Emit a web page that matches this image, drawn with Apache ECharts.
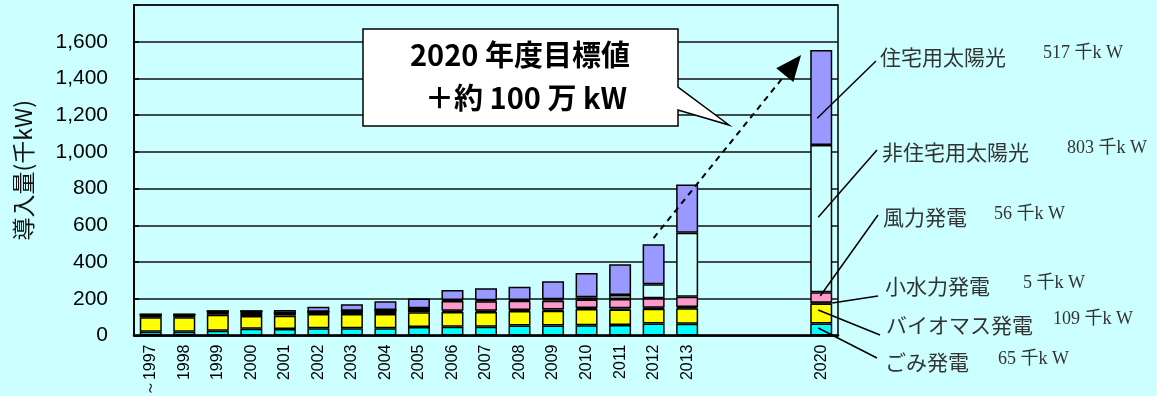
<!DOCTYPE html>
<html>
<head>
<meta charset="utf-8">
<script src="https://cdn.jsdelivr.net/npm/echarts@6/dist/echarts.min.js"></script>
<style>
  html, body { margin: 0; padding: 0; background: #CCFFFF; }
  #chart { width: 1157px; height: 396px; }
</style>
</head>
<body>
<div id="chart"></div>
<script>
// 年度（空白は 2014〜2019 の省略分）
var years = ['～1997', '1998', '1999', '2000', '2001', '2002', '2003', '2004', '2005', '2006',
  '2007', '2008', '2009', '2010', '2011', '2012', '2013', ' ', '  ', '   ', '2020'];

// 導入量（千kW）下から順に積み上げ
var gomi = [20, 20, 26, 37, 35, 39, 39, 39, 46, 48, 48, 55, 55, 56, 57, 66, 64, null, null, null, 65];
var biomass = [79, 79, 87, 69, 73, 78, 78, 78, 80, 80, 80, 78, 80, 88, 85, 80, 84, null, null, null, 109];
var hydro = [16, 16, 19, 26, 13, 13, 18, 22, 22, 7, 7, 6, 6, 6, 6, 5, 7, null, null, null, 5];
var wind = [0, 0, 0, 0, 0, 0, 0, 0, 0, 53, 52, 50, 48, 46, 51, 52, 56, null, null, null, 56];
var solarOther = [0, 0, 0, 0, 0, 0, 0, 0, 0, 5, 5, 5, 8, 12, 22, 76, 349, null, null, null, 803];
var solarHome = [0, 0, 0, 0, 18, 27, 35, 47, 54, 55, 65, 72, 98, 132, 167, 218, 263, null, null, null, 517];

var yTicks = [0, 200, 400, 600, 800, 1000, 1200, 1400, 1600];

// 右側の凡例（2020 年度の内訳）
var legendNames = ['住宅用太陽光', '非住宅用太陽光', '風力発電', '小水力発電', 'バイオマス発電', 'ごみ発電'];
var legendValues = ['517 千k W', '803 千k W', '56 千k W', '5 千k W', '109 千k W', '65 千k W'];

var chart = echarts.init(document.getElementById('chart'));

function barSeries(name, data, color) {
  return {
    name: name,
    type: 'bar',
    stack: 'total',
    barWidth: 22,
    data: data,
    itemStyle: { color: color, borderColor: '#000', borderWidth: 1.5 }
  };
}

var option = {
  backgroundColor: '#CCFFFF',
  animation: false,
  grid: {
    left: 134, right: 319, top: 5, bottom: 60.5,
    show: true, borderColor: '#000', borderWidth: 1.5, backgroundColor: 'transparent',
    outerBoundsMode: 'none'
  },
  xAxis: {
    type: 'category',
    data: years,
    axisLine: { lineStyle: { color: '#000', width: 2.5 } },
    axisTick: { inside: true, length: 6, lineStyle: { color: '#000', width: 1.5 } },
    axisLabel: {
      rotate: 90, margin: 9, interval: 0,
      fontSize: 16, fontFamily: 'Liberation Sans, Arial, sans-serif', color: '#000'
    }
  },
  yAxis: {
    type: 'value',
    min: 0, max: 1800, interval: 200,
    name: '導入量(千kW)',
    nameLocation: 'middle',
    nameGap: 99,
    nameTextStyle: { fontSize: 23, fontFamily: 'Noto Sans CJK JP', color: '#111' },
    axisLine: { show: true, lineStyle: { color: '#000', width: 2 } },
    axisTick: { show: true, inside: true, length: 5, lineStyle: { color: '#000', width: 1.5 } },
    axisLabel: {
      margin: 26, fontSize: 21, fontFamily: 'Liberation Sans, Arial, sans-serif', color: '#000',
      formatter: function (v) {
        return yTicks.indexOf(v) >= 0 ? v.toLocaleString('en-US') : '';
      }
    },
    splitLine: { lineStyle: { color: '#111', width: 1.5 } }
  },
  series: [
    barSeries('ごみ発電', gomi, '#00FFFF'),
    barSeries('バイオマス発電', biomass, '#FFFF00'),
    barSeries('小水力発電', hydro, '#000000'),
    barSeries('風力発電', wind, '#FF99CC'),
    barSeries('非住宅用太陽光', solarOther, '#CCFFFF'),
    barSeries('住宅用太陽光', solarHome, '#9999FF')
  ]
};
chart.setOption(option);

// ---- 注記（吹き出し・矢印・引出線）----
function px(idx, value) {
  // idx は小数も可：隣のカテゴリ中心から補間
  var i0 = Math.floor(idx), f = idx - i0;
  var p0 = chart.convertToPixel({ gridIndex: 0 }, [i0, value]);
  if (f === 0) return p0;
  var p1 = chart.convertToPixel({ gridIndex: 0 }, [i0 + 1, value]);
  return [p0[0] + (p1[0] - p0[0]) * f, p0[1]];
}

var last = years.length - 1;
var stacks = [gomi, biomass, hydro, wind, solarOther, solarHome];
function segValue(si, frac) {
  var base = 0;
  for (var k = 0; k < si; k++) base += stacks[k][last];
  return base + stacks[si][last] * frac;
}

var graphics = [];

// 吹き出し
var boxL = 363, boxT = 29, boxR = 678, boxB = 126;
graphics.push({
  type: 'polygon',
  shape: { points: [[boxL, boxT], [boxR, boxT], [boxR, 87], [729, 125], [boxR, 110], [boxR, boxB], [boxL, boxB]] },
  style: { fill: '#fff', stroke: '#000', lineWidth: 1.5 },
  z: 10
});
graphics.push({
  type: 'text', z: 11,
  style: { text: '2020 年度目標値', x: 520, y: 55, align: 'center', verticalAlign: 'middle',
    fontSize: 29, fontWeight: 'bold', fontFamily: 'Noto Sans CJK JP', fill: '#000' }
});
graphics.push({
  type: 'text', z: 11,
  style: { text: '＋約 100 万 kW', x: 526, y: 98, align: 'center', verticalAlign: 'middle',
    fontSize: 29, fontWeight: 'bold', fontFamily: 'Noto Sans CJK JP', fill: '#000' }
});

// 破線矢印（2012 年度から 2020 年度目標へ）
var a0 = px(15, 531);
var a1 = px(19.4, 1528);
var dx = a1[0] - a0[0], dy = a1[1] - a0[1];
var len = Math.sqrt(dx * dx + dy * dy);
var ux = dx / len, uy = dy / len;
var headLen = 26, headHalf = 11;
var bx = a1[0] - ux * headLen, by = a1[1] - uy * headLen;
graphics.push({
  type: 'line', z: 12,
  shape: { x1: a0[0], y1: a0[1], x2: bx, y2: by },
  style: { stroke: '#000', lineWidth: 2, lineDash: [6, 5] }
});
graphics.push({
  type: 'polygon', z: 12,
  shape: { points: [[a1[0], a1[1]], [bx - uy * headHalf, by + ux * headHalf], [bx + uy * headHalf, by - ux * headHalf]] },
  style: { fill: '#000' }
});

// 凡例ラベルと引出線
var labelPos = [[880, 57], [882, 152], [883, 217], [885, 286], [886, 325], [885, 362]];
var numPos = [[1043, 53], [1067, 148], [994, 214], [1023, 283], [1053, 319], [998, 359]];
var lineStart = [[876, 61], [877, 150], [878, 215], [878, 296], [880, 335], [877, 358]];
// 引出線の先：[系列番号, 区間内の位置, 棒中心からのずれ]
var lineTarget = [[5, 0.28, -4], [4, 0.51, -3], [3, 0.64, -1], [2, 0.5, 11], [1, 0.68, -3], [0, 0.63, -3]];

for (var i = 0; i < legendNames.length; i++) {
  var t = lineTarget[i];
  var p = px(last, segValue(t[0], t[1]));
  graphics.push({
    type: 'line', z: 12,
    shape: { x1: lineStart[i][0], y1: lineStart[i][1], x2: p[0] + t[2], y2: p[1] },
    style: { stroke: '#000', lineWidth: 1.5 }
  });
  graphics.push({
    type: 'text', z: 12,
    style: { text: legendNames[i], x: labelPos[i][0], y: labelPos[i][1], verticalAlign: 'middle',
      fontSize: 21, fontFamily: 'Noto Sans CJK JP', fill: '#333' }
  });
  graphics.push({
    type: 'text', z: 12,
    style: { text: legendValues[i], x: numPos[i][0], y: numPos[i][1], verticalAlign: 'middle',
      fontSize: 18, fontFamily: 'Liberation Serif, Noto Sans CJK JP, serif', fill: '#333' }
  });
}

chart.setOption({ graphic: graphics });
</script>
</body>
</html>
